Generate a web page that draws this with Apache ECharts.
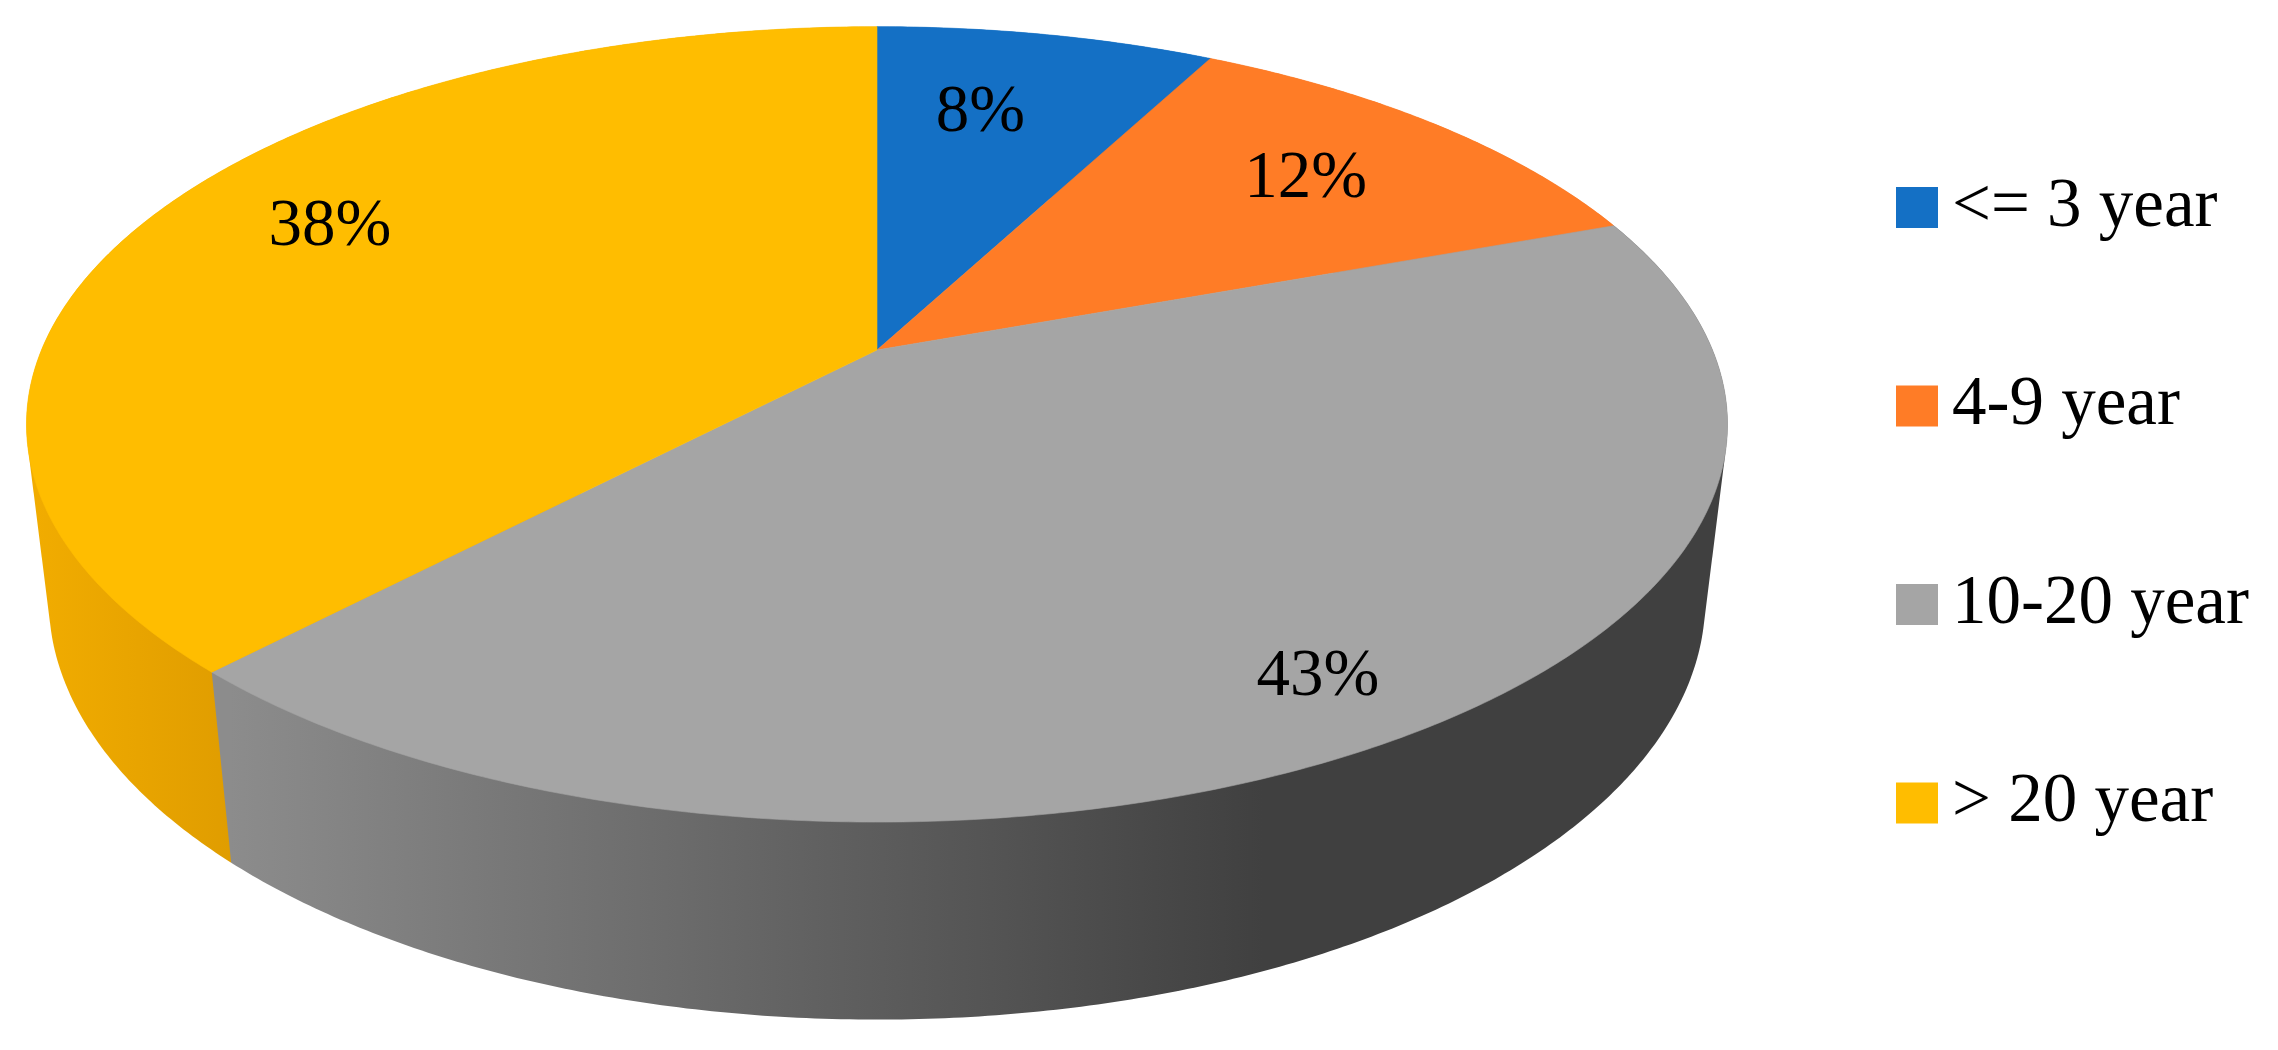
<!DOCTYPE html>
<html>
<head>
<meta charset="utf-8">
<style>html,body{margin:0;padding:0;background:#fff}#c{width:2278px;height:1050px}</style>
<script src="https://cdn.jsdelivr.net/npm/echarts@6/dist/echarts.min.js"></script>
</head>
<body>
<div id="c"></div>
<script>
const categories = ['<= 3 year', '4-9 year', '10-20 year', '> 20 year'];
const shares = [7.7, 11.7, 42.68, 37.92];
const percentLabels = ['8%', '12%', '43%', '38%'];
const topColors = ['#1470c5', '#ff7c26', '#a5a5a5', '#ffbd00'];

// Perspective model of the disc, and where the labels sit on it.
const VIEW = {cx: 877, cy: 350, a: 835.5, b: 383.8, k: 0.187, w: 1.026, drop: 178};
const LABEL_RADIUS = [0.725, 0.75, 0.859, 0.782];
const LABEL_SHIFT = [-2.7, -0.38, 1.28, 5.05];
const LABEL_DROP = 4;
const SIDE_ORDER = [1, 2, 4, 3];
const FONT = '"Liberation Serif", "Times New Roman", serif';

const total = shares.reduce((s, v) => s + v, 0);
const rad = d => d * Math.PI / 180;
const onTop = (deg, r = 1) => {
  const X = r * Math.sin(rad(deg)), Y = r * Math.cos(rad(deg)), d = 1 + VIEW.k * Y;
  return [VIEW.cx + VIEW.a * X / d, VIEW.cy - VIEW.b * Y / d];
};
const onBase = deg => {
  const X = Math.sin(rad(deg)), Y = Math.cos(rad(deg)), d = VIEW.w + VIEW.k * Y;
  return [VIEW.cx + VIEW.a * X / d, VIEW.cy + (VIEW.drop - VIEW.b * Y) / d];
};
const arc = (fn, from, to) => {
  const n = Math.max(2, Math.ceil(Math.abs(to - from) * 2)), out = [];
  for (let i = 0; i <= n; i++) out.push(fn(from + (to - from) * i / n));
  return out;
};
// Outline of the wall: the hull of rim and base, so the tangent silhouette is included.
function hull(points) {
  const p = points.slice().sort((u, v) => u[0] - v[0] || u[1] - v[1]);
  const cross = (o, u, v) => (u[0] - o[0]) * (v[1] - o[1]) - (u[1] - o[1]) * (v[0] - o[0]);
  const half = list => {
    const out = [];
    for (const q of list) {
      while (out.length > 1 && cross(out[out.length - 2], out[out.length - 1], q) <= 0) out.pop();
      out.push(q);
    }
    out.pop();
    return out;
  };
  return half(p).concat(half(p.slice().reverse()));
}
const sideFills = [
  '#1470c5', '#e06a1f',
  new echarts.graphic.LinearGradient(230, 0, 1730, 0, [
    {offset: 0, color: '#8c8c8c'}, {offset: 0.689, color: '#404040'}, {offset: 1, color: '#404040'}
  ], true),
  new echarts.graphic.LinearGradient(35, 0, 230, 0, [
    {offset: 0, color: '#f1ac00'}, {offset: 1, color: '#e09d00'}
  ], true)
];

function renderSlice(params, api) {
  const i = params.seriesIndex;
  const before = shares.slice(0, i).reduce((s, v) => s + v, 0);
  const from = before / total * 360;
  const to = (before + api.value(0)) / total * 360;
  const mid = (from + to) / 2;
  const rim = arc(onTop, from, to);
  const base = arc(onBase, from, to);
  const spot = onTop(mid + LABEL_SHIFT[i], LABEL_RADIUS[i]);
  return {
    type: 'group',
    children: [
      {type: 'polygon', z2: SIDE_ORDER[i], shape: {points: hull(rim.concat(base))},
        style: {fill: sideFills[i]}},
      {type: 'polygon', z2: 10, shape: {points: [[VIEW.cx, VIEW.cy]].concat(rim)},
        style: {fill: topColors[i], stroke: topColors[i], lineWidth: 0.6}},
      {type: 'text', z2: 20, style: {
        text: percentLabels[i], x: spot[0], y: spot[1] + LABEL_DROP, fill: '#000',
        font: '67px ' + FONT, align: 'center', verticalAlign: 'middle'}}
    ]
  };
}

const chart = echarts.init(document.getElementById('c'));
chart.setOption({
  animation: false,
  backgroundColor: '#fff',
  legend: {
    orient: 'vertical', left: 1891, top: 168, itemWidth: 42, itemHeight: 41, itemGap: 129.5,
    icon: 'rect', selectedMode: false, data: categories,
    textStyle: {fontFamily: FONT, fontSize: 69, color: '#000', padding: [0, 0, 0, 9]}
  },
  series: categories.map((name, i) => ({
    type: 'custom', name, coordinateSystem: 'none', silent: true,
    itemStyle: {color: topColors[i]},
    renderItem: renderSlice,
    data: [[shares[i]]]
  }))
});
</script>
</body>
</html>
